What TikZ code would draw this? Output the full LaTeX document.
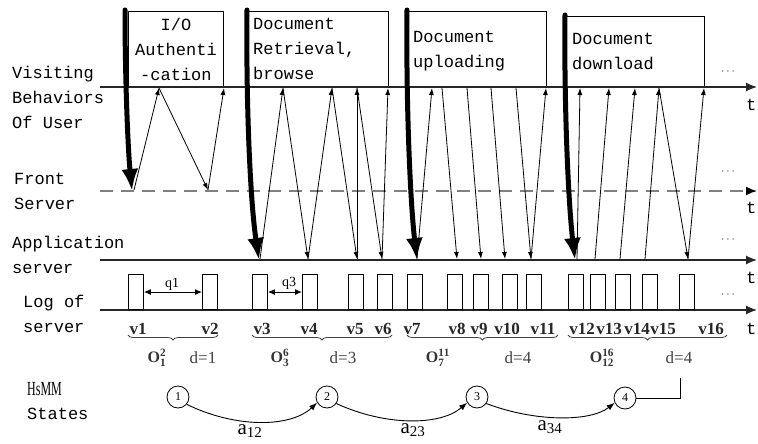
\documentclass[tikz,border=0pt]{standalone}
\usepackage{fontspec}
\setmainfont{Liberation Serif}
\newfontfamily\monof{Liberation Mono}
\usetikzlibrary{arrows.meta,decorations.pathreplacing}
\begin{document}
\begin{tikzpicture}[x=1pt,y=-1pt,
  mono/.style={font=\monof\fontsize{17}{25}\selectfont, inner sep=0pt},
  axis/.style={line width=1.2pt, black!85, -{Latex[length=11pt,width=9pt]}},
  dashaxis/.style={line width=1.6pt, black!50, dash pattern=on 13pt off 8pt, -{Latex[length=11pt,width=9pt,color=black]}},
  bigarrow/.style={line width=5pt, line cap=round, -{Latex[length=22pt,width=17pt]}},
  msg/.style={line width=0.8pt, -{Latex[length=7pt,width=5pt]}},
  phase/.style={draw, line width=0.9pt, inner sep=0pt, anchor=south west},
  logbox/.style={draw, line width=0.9pt, minimum width=15pt, minimum height=35pt, inner sep=0pt, anchor=south west},
  qarr/.style={line width=1pt, {Latex[length=7pt,width=6pt]}-{Latex[length=7pt,width=6pt]}},
  qlab/.style={font=\fontsize{14}{14}\selectfont, inner sep=0pt},
  vlab/.style={font=\bfseries\fontsize{17}{17}\selectfont, inner sep=0pt, text=black!85},
  dlab/.style={font=\fontsize{17}{17}\selectfont, text=black!75, inner sep=0pt},
  olab/.style={font=\fontsize{16}{16}\selectfont, text=black!80, inner sep=0pt},
  state/.style={draw, circle, minimum size=22pt, inner sep=0pt, line width=0.8pt, font=\fontsize{12}{12}\selectfont},
  trans/.style={line width=0.9pt, -{Latex[length=8pt,width=6pt]}},
  alab/.style={font=\fontsize{21}{21}\selectfont, inner sep=0pt},
  dots/.style={font=\fontsize{13}{13}\selectfont, inner sep=0pt, text=black!80},
  tlab/.style={mono, anchor=west},
  brc/.style={decorate, decoration={brace, mirror, amplitude=5pt}, line width=0.8pt, black!75},
]
\useasboundingbox (0,0) rectangle (758,444);

% left labels
\node[mono, align=left, anchor=west] (lvis) at (12,97) {Visiting\\Behaviors\\Of User};
\node[mono, align=left, anchor=west] (lfront) at (14,191) {Front\\Server};
\node[mono, align=left, anchor=west] (lapp) at (12,255) {Application\\server};
\node[mono, align=left, anchor=west] (llog) at (23,314) {Log of\\server};
\node[anchor=west, inner sep=0pt, font=\fontsize{20}{20}\selectfont] (lhs) at (27,389) {\scalebox{0.6}[1]{HsMM}};
\node[mono, anchor=west] (lst) at (27,414) {States};

% phase boxes
\node[phase, minimum width=95pt, minimum height=75pt] (p1) at (128,87) {};
\node[mono, align=center] (p1t) at (p1.center) {I/O\\Authenti\\-cation};
\node[phase, minimum width=140pt, minimum height=75pt] (p2) at (248,87) {};
\node[mono, align=left, anchor=west] (p2t) at (253,49) {Document\\Retrieval,\\browse};
\node[phase, minimum width=139pt, minimum height=75pt] (p3) at (407,87) {};
\node[mono, align=left, anchor=west] (p3t) at (413,51) {Document\\uploading};
\node[phase, minimum width=138pt, minimum height=70pt] (p4) at (566,87) {};
\node[mono, align=left, anchor=west] (p4t) at (572,51) {Document\\download};

% axes
\coordinate (vs) at (100,87);  \coordinate (ve) at (757,87);
\coordinate (fs) at (100,191); \coordinate (fe) at (757,191);
\coordinate (as) at (100,260); \coordinate (ae) at (757,260);
\coordinate (ls) at (100,310); \coordinate (le) at (757,310);
\draw[axis] (vs) -- (ve);
\draw[dashaxis] (fs) -- (fe);
\draw[axis] (as) -- (ae);
\draw[axis] (ls) -- (le);
\node[tlab] (t1) at (746,105) {t};
\node[tlab] (t2) at (746,208) {t};
\node[tlab] (t3) at (746,278) {t};
\node[tlab] (t4) at (746,329) {t};
\node[dots] (d1) at (728,72) {$\cdots$};
\node[dots] (d2) at (728,172) {$\cdots$};
\node[dots] (d3) at (728,240) {$\cdots$};
\node[dots] (d4) at (728,295) {$\cdots$};

% message points
\coordinate (F1) at (134,190); \coordinate (U1) at (159,88);
\coordinate (F2) at (208,190); \coordinate (U2) at (224,88);
\draw[msg] (F1) -- (U1); \draw[msg] (U1) -- (F2); \draw[msg] (F2) -- (U2);

\coordinate (A1) at (260,259); \coordinate (U3) at (283,88);
\coordinate (A2) at (308,259); \coordinate (U4) at (332,88);
\coordinate (A3) at (357,259); \coordinate (U5) at (357,88);
\coordinate (A4) at (382,259); \coordinate (U6) at (388,88);
\draw[msg] (A1) -- (U3); \draw[msg] (U3) -- (A2); \draw[msg] (A2) -- (U4);
\draw[msg] (U4) -- (A3); \draw[msg] (A3) -- (U5); \draw[msg] (U5) -- (A4);
\draw[msg] (A4) -- (U6);

\coordinate (A5) at (417,259); \coordinate (U7) at (432,88);
\coordinate (U8) at (442,88);  \coordinate (A6) at (457,259);
\coordinate (U9) at (467,88);  \coordinate (A7) at (481,259);
\coordinate (U10) at (491,88); \coordinate (A8) at (505,259);
\coordinate (U11) at (516,88); \coordinate (A9) at (531,259);
\coordinate (U12) at (546,88);
\draw[msg] (A5) -- (U7); \draw[msg] (U8) -- (A6); \draw[msg] (U9) -- (A7);
\draw[msg] (U10) -- (A8); \draw[msg] (U11) -- (A9); \draw[msg] (A9) -- (U12);

\coordinate (A10) at (577,259); \coordinate (U13) at (580,88);
\coordinate (A11) at (595,259); \coordinate (U14) at (609,88);
\coordinate (A12) at (620,259); \coordinate (U15) at (635,88);
\coordinate (A13) at (645,259); \coordinate (U16) at (659,88);
\coordinate (A14) at (688,259); \coordinate (U17) at (704,88);
\draw[msg] (A10) -- (U13); \draw[msg] (A11) -- (U14); \draw[msg] (A12) -- (U15);
\draw[msg] (A13) -- (U16); \draw[msg] (U16) -- (A14); \draw[msg] (A14) -- (U17);

% thick arrows
\coordinate (k1s) at (125,10); \coordinate (k1e) at (132,191);
\coordinate (k2s) at (247,10); \coordinate (k2e) at (259,260);
\coordinate (k3s) at (407,10); \coordinate (k3e) at (417,260);
\coordinate (k4s) at (565,15); \coordinate (k4e) at (575,260);
\draw[bigarrow] (k1s) .. controls (125,80) and (128,150) .. (k1e);
\draw[bigarrow] (k2s) .. controls (246,100) and (250,200) .. (k2e);
\draw[bigarrow] (k3s) .. controls (406,100) and (410,200) .. (k3e);
\draw[bigarrow] (k4s) .. controls (564,100) and (568,200) .. (k4e);

% log boxes
\foreach \x [count=\i] in {128,202,252,302,348,377,407,447,473,502,526,568,590,615,642,679}
  \node[logbox] (lb\i) at (\x,310) {};
\draw[qarr] (lb1.east) -- (lb2.west);
\node[qlab] (q1) at (172,284) {q1};
\draw[qarr] (lb3.east) -- (lb4.west);
\node[qlab] (q3) at (289,283) {q3};

% v labels
\foreach \x [count=\i] in {138,210,262,309,355,383,412,457,479,507,543,582,609,637,663,711}
  \node[vlab] (v\i) at (\x,329) {v\i};

% braces
\coordinate (b1s) at (128,335); \coordinate (b1e) at (218,335);
\coordinate (b2s) at (252,335); \coordinate (b2e) at (392,335);
\coordinate (b3s) at (407,335); \coordinate (b3e) at (558,335);
\coordinate (b4s) at (568,335); \coordinate (b4e) at (727,335);
\draw[brc] (b1s) -- (b1e);
\draw[brc] (b2s) -- (b2e);
\draw[brc] (b3s) -- (b3e);
\draw[brc] (b4s) -- (b4e);

\node[olab] (o1) at (157,358) {$\mathbf{O}_{\mathbf{1}}^{\mathbf{2}}$};
\node[dlab] (dd1) at (203,358) {d=1};
\node[olab] (o2) at (280,358) {$\mathbf{O}_{\mathbf{3}}^{\mathbf{6}}$};
\node[dlab] (dd2) at (343,358) {d=3};
\node[olab] (o3) at (438,358) {$\mathbf{O}_{\mathbf{7}}^{\mathbf{11}}$};
\node[dlab] (dd3) at (518,358) {d=4};
\node[olab] (o4) at (602,358) {$\mathbf{O}_{\mathbf{12}}^{\mathbf{16}}$};
\node[dlab] (dd4) at (679,358) {d=4};

% states
\node[state] (s1) at (178,397) {1};
\node[state] (s2) at (327,397) {2};
\node[state] (s3) at (477,397) {3};
\node[state] (s4) at (625,398) {4};
\draw[trans] (s1.-40) .. controls (235,428) and (290,428) .. (s2.210);
\draw[trans] (s2.-35) .. controls (385,426) and (440,426) .. (s3.210);
\draw[trans] (s3.-35) .. controls (535,422) and (590,422) .. (s4.205);
\coordinate (c4) at (680,378);
\draw[line width=0.9pt] (s4.east) -| (c4);
\node[alab] (a12) at (250,431) {a\textsubscript{\fontsize{15}{15}\selectfont 12}};
\node[alab] (a23) at (413,430) {a\textsubscript{\fontsize{15}{15}\selectfont 23}};
\node[alab] (a34) at (550,427) {a\textsubscript{\fontsize{15}{15}\selectfont 34}};
\end{tikzpicture}
\end{document}
